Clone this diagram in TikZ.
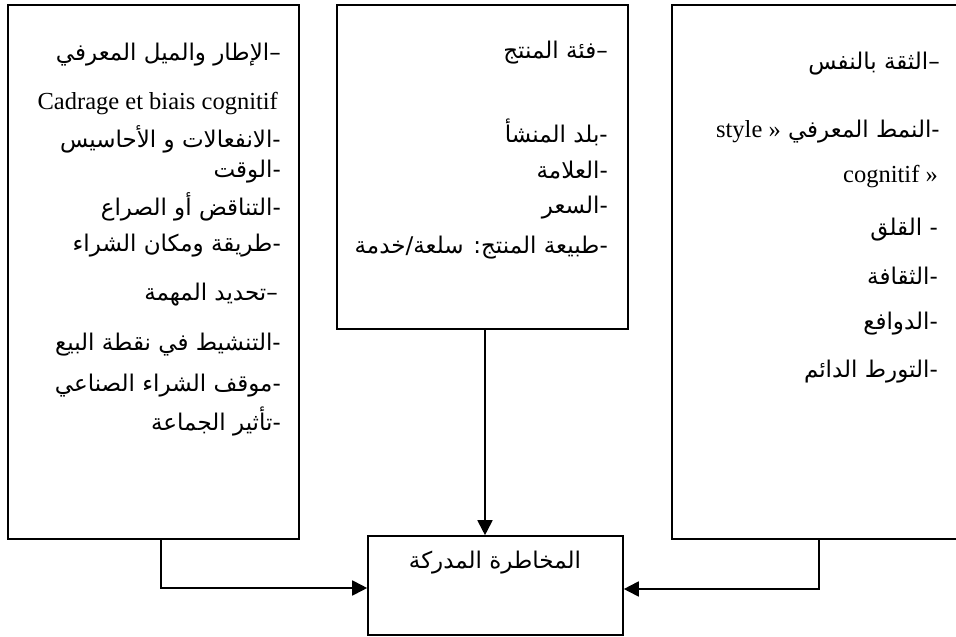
\documentclass[tikz,border=0pt]{standalone}
\usepackage{fontspec}
\setmainfont{Liberation Serif}
\newfontfamily\arabicfont[Script=Arabic]{DejaVu Sans}
\TeXXeTstate=1
\usetikzlibrary{arrows.meta}
\tikzset{
  box/.style={draw=black, line width=1.6pt, rectangle, inner sep=0pt},
  ar/.style={font=\arabicfont\fontsize{23}{27}\selectfont, inner sep=0pt, anchor=east},
  lat/.style={font=\fontsize{24.5}{28}\selectfont, inner sep=0pt, anchor=east},
  arr/.style={line width=1.8pt, -{Triangle[length=15pt,width=15pt]}}
}
\newcommand{\latx}[1]{{\normalfont\fontsize{24.5}{28}\selectfont #1}}
\begin{document}
\begin{tikzpicture}[x=1pt,y=-1pt]
\useasboundingbox (0,0) rectangle (956,637);
\fill[white] (0,0) rectangle (956,637);
% boxes
\node[box, minimum width=291pt, minimum height=534pt] (L) at (153.5,272) {};
\node[box, minimum width=291pt, minimum height=324pt] (M) at (482.5,167) {};
\node[box, minimum width=291pt, minimum height=534pt] (R) at (817.5,272) {};
\node[box, minimum width=255pt, minimum height=99pt] (C) at (495.5,585.5) {};
% left box text
\node[ar] (l1) at (281,55) {\beginR –الإطار والميل المعرفي\endR};
\node[lat] (l2) at (278,104) {Cadrage et biais cognitif};
\node[ar] (l3) at (281,139) {\beginR -الانفعالات و الأحاسيس\endR};
\node[ar] (l4) at (281,172) {\beginR -الوقت\endR};
\node[ar] (l5) at (281,207) {\beginR -التناقض أو الصراع\endR};
\node[ar] (l6) at (281,246) {\beginR -طريقة ومكان الشراء\endR};
\node[ar] (l7) at (278,295) {\beginR –تحديد المهمة\endR};
\node[ar] (l8) at (281,345) {\beginR -التنشيط في نقطة البيع\endR};
\node[ar] (l9) at (281,386) {\beginR -موقف الشراء الصناعي\endR};
\node[ar] (l10) at (281,421) {\beginR -تأثير الجماعة\endR};
% middle box text
\node[ar] (m1) at (608,53) {\beginR –فئة المنتج\endR};
\node[ar] (m2) at (608,132) {\beginR -بلد المنشأ\endR};
\node[ar] (m3) at (608,170) {\beginR -العلامة\endR};
\node[ar] (m4) at (608,208) {\beginR -السعر\endR};
\node[ar] (m5) at (608,248) {\beginR -طبيعة المنتج: سلعة/خدمة\endR};
% right box text
\node[ar] (r1) at (940,64) {\beginR –الثقة بالنفس\endR};
\node[ar] (r2) at (940,132) {\beginR -النمط المعرفي \beginL\latx{style »}\endL\endR};
\node[lat] (r3) at (938,177) {cognitif »};
\node[ar] (r4) at (938,230) {\beginR - القلق\endR};
\node[ar] (r5) at (938,276) {\beginR -الثقافة\endR};
\node[ar] (r6) at (938,324) {\beginR -الدوافع\endR};
\node[ar] (r7) at (938,372) {\beginR -التورط الدائم\endR};
% central box text
\node[ar, anchor=center] (c1) at (495,563) {\beginR المخاطرة المدركة\endR};
% connectors
\draw[arr] ([xshift=2.5pt]M.south) -- ([xshift=2.5pt]M.south |- C.north);
\draw[arr] ([xshift=7.5pt]L.south) |- ([yshift=-2.5pt]C.west);
\draw[arr] ([xshift=1.5pt]R.south) |- ([yshift=-3.5pt]C.east);
\end{tikzpicture}
\end{document}
